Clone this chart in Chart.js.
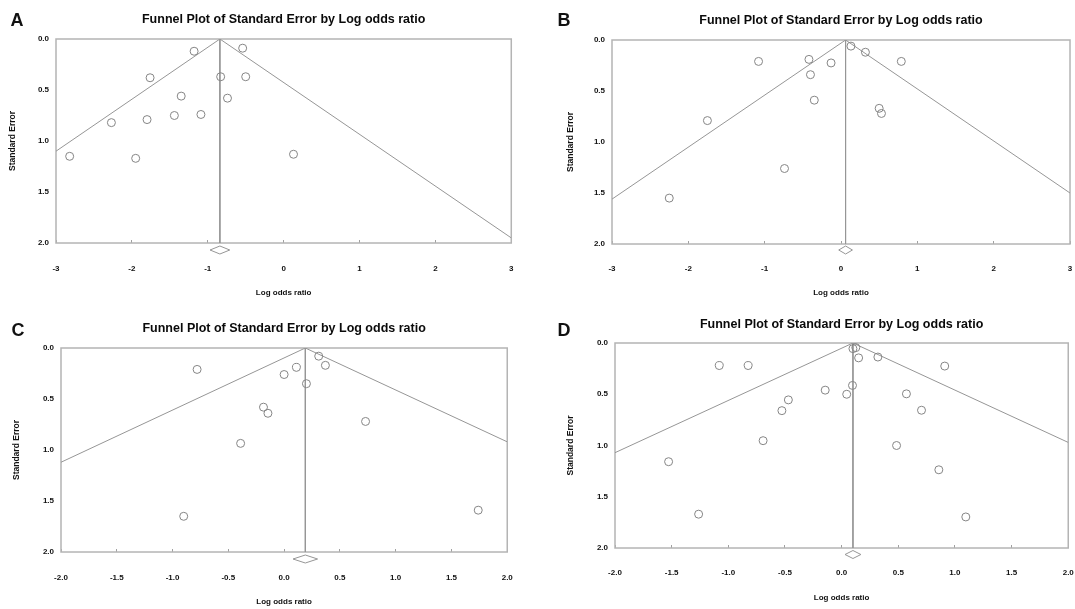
<!DOCTYPE html>
<html>
<head>
<meta charset="utf-8">
<script src="https://cdn.jsdelivr.net/npm/chart.js@4/dist/chart.umd.min.js"></script>
<style>
  html, body { margin: 0; padding: 0; background: #fff; overflow: hidden; }
  #page { position: relative; width: 1075px; height: 609px; overflow: hidden; }
  canvas { position: absolute; }
  .tag { position: absolute; font: bold 18px "Liberation Sans", Arial, sans-serif; color: #111; transform: translate(-50%, -50%); line-height: 1; }
</style>
</head>
<body>
<div id="page">
  <canvas id="chartA" width="537" height="305" style="left:0;top:0"></canvas>
  <canvas id="chartB" width="560" height="305" style="left:537px;top:0"></canvas>
  <canvas id="chartC" width="537" height="304" style="left:0;top:305px"></canvas>
  <canvas id="chartD" width="560" height="304" style="left:537px;top:305px"></canvas>
  <div class="tag" style="left:17px;top:20px">A</div>
  <div class="tag" style="left:564px;top:20px">B</div>
  <div class="tag" style="left:18px;top:330px">C</div>
  <div class="tag" style="left:564px;top:330px">D</div>
</div>
<script>
// shared text and ticks
const chartTitle = 'Funnel Plot of Standard Error by Log odds ratio';
const xTitle = 'Log odds ratio';
const yTitle = 'Standard Error';
const yTicks = [0.0, 0.5, 1.0, 1.5, 2.0];
const xTicksWide = [-3, -2, -1, 0, 1, 2, 3];
const xTicksNarrow = [-2.0, -1.5, -1.0, -0.5, 0.0, 0.5, 1.0, 1.5, 2.0];

// Panel A: study log odds ratios and standard errors
const logOrA = [-1.18, -0.54, -1.76, -0.83, -0.50, -1.35, -0.74, -2.27, -1.80, -1.44, -1.09, -2.82, -1.95, 0.13];
const seA = [0.12, 0.09, 0.38, 0.37, 0.37, 0.56, 0.58, 0.82, 0.79, 0.75, 0.74, 1.15, 1.17, 1.13];
const pooledA = [-0.84, -0.97, -0.71]; // estimate, lower, upper
const funnelA = [[-3, 1.10], [-0.84, 0], [3, 1.95]];

// Panel B
const logOrB = [-1.08, -0.42, -0.13, -0.40, 0.13, 0.32, 0.79, -0.35, 0.50, 0.53, -1.75, -0.74, -2.25];
const seB = [0.21, 0.19, 0.225, 0.34, 0.06, 0.12, 0.21, 0.59, 0.67, 0.72, 0.79, 1.26, 1.55];
const pooledB = [0.06, -0.03, 0.15];
const funnelB = [[-3, 1.56], [0.06, 0], [3, 1.50]];

// Panel C
const logOrC = [-0.78, 0.0, 0.11, 0.31, 0.37, 0.20, -0.185, -0.145, 0.73, -0.39, -0.90, 1.74];
const seC = [0.21, 0.26, 0.19, 0.08, 0.17, 0.35, 0.58, 0.64, 0.72, 0.935, 1.65, 1.59];
const pooledC = [0.19, 0.08, 0.30];
const funnelC = [[-2, 1.12], [0.19, 0], [2, 0.92]];

// Panel D
const logOrD = [-1.08, -0.825, 0.10, 0.125, 0.15, 0.32, 0.91, -0.145, 0.096, 0.045, 0.572, -0.47, -0.527, 0.705, -0.693, 0.485, -1.527, 0.858, -1.262, 1.096];
const seD = [0.22, 0.22, 0.055, 0.045, 0.145, 0.137, 0.225, 0.46, 0.414, 0.50, 0.496, 0.555, 0.66, 0.656, 0.953, 1.0, 1.158, 1.237, 1.67, 1.697];
const pooledD = [0.10, 0.03, 0.17];
const funnelD = [[-2, 1.07], [0.10, 0], [2, 0.97]];

const FONT = '"Liberation Sans", Arial, sans-serif';
const LINE = '#969696';

// box round the plot area
const framePlugin = {
    id: 'frame',
    beforeDatasetsDraw(chart) {
        const a = chart.chartArea;
        const ctx = chart.ctx;
        ctx.save();
        ctx.strokeStyle = '#b4b4b4';
        ctx.lineWidth = 1.5;
        ctx.strokeRect(a.left, a.top, a.right - a.left, a.bottom - a.top);
        ctx.restore();
    }
};

function buildPanel(id, s) {
    const canvas = document.getElementById(id);
    const W = canvas.width, H = canvas.height;
    const yMax = yTicks[yTicks.length - 1];

    // pooled estimate diamond under the x axis
    const diamond = {
        id: 'diamond',
        afterDatasetsDraw(chart) {
            const x = chart.scales.x;
            const ctx = chart.ctx;
            const cy = chart.chartArea.bottom + s.gap;
            ctx.save();
            ctx.strokeStyle = LINE;
            ctx.lineWidth = 1;
            ctx.beginPath();
            ctx.moveTo(x.getPixelForValue(s.pooled[1]), cy);
            ctx.lineTo(x.getPixelForValue(s.pooled[0]), cy - 4);
            ctx.lineTo(x.getPixelForValue(s.pooled[2]), cy);
            ctx.lineTo(x.getPixelForValue(s.pooled[0]), cy + 4);
            ctx.closePath();
            ctx.stroke();
            ctx.restore();
        }
    };

    new Chart(canvas, {
        type: 'scatter',
        data: {
            datasets: [
                {
                    data: s.logOr.map((v, i) => ({ x: v, y: s.se[i] })),
                    pointStyle: 'circle',
                    pointRadius: 4,
                    borderColor: '#858585',
                    borderWidth: 1,
                    backgroundColor: 'rgba(255,255,255,0)'
                },
                {
                    data: s.funnel.map(p => ({ x: p[0], y: p[1] })),
                    showLine: true,
                    pointRadius: 0,
                    borderColor: LINE,
                    borderWidth: 1
                },
                {
                    data: [{ x: s.pooled[0], y: 0 }, { x: s.pooled[0], y: yMax }],
                    showLine: true,
                    pointRadius: 0,
                    borderColor: LINE,
                    borderWidth: 1
                }
            ]
        },
        options: {
            responsive: false,
            animation: false,
            devicePixelRatio: 1,
            layout: { padding: { left: 0, top: 0, bottom: 0, right: W - s.area.right } },
            plugins: {
                legend: { display: false },
                tooltip: { enabled: false },
                title: {
                    display: true,
                    text: chartTitle,
                    fullSize: false,
                    color: '#0a0a0a',
                    font: { family: FONT, size: 12.5, weight: 'bold', lineHeight: 1.2 },
                    padding: { top: s.titleY - 7.5, bottom: s.area.top - s.titleY - 7.5 }
                }
            },
            scales: {
                x: {
                    type: 'linear',
                    min: s.xTicks[0],
                    max: s.xTicks[s.xTicks.length - 1],
                    afterBuildTicks: sc => { sc.ticks = s.xTicks.map(v => ({ value: v })); },
                    afterFit: sc => { sc.height = H - s.area.bottom; },
                    grid: { drawOnChartArea: false, drawTicks: true, tickLength: -3, color: '#a0a0a0' },
                    border: { display: false },
                    ticks: {
                        autoSkip: false,
                        maxRotation: 0,
                        padding: s.xTickY - s.area.bottom + 3 - 4.8,
                        color: '#111',
                        font: { family: FONT, size: 8, weight: 'bold' },
                        callback: v => v.toFixed(s.xDec)
                    },
                    title: {
                        display: true,
                        text: xTitle,
                        color: '#111',
                        font: { family: FONT, size: 8, weight: 'bold', lineHeight: 1.2 },
                        padding: { top: 0, bottom: H - s.xTitleY - 4.8 }
                    }
                },
                y: {
                    type: 'linear',
                    reverse: true,
                    min: yTicks[0],
                    max: yMax,
                    afterBuildTicks: sc => { sc.ticks = yTicks.map(v => ({ value: v })); },
                    afterFit: sc => { sc.width = s.area.left; },
                    grid: { display: false, drawTicks: false },
                    border: { display: false },
                    ticks: {
                        padding: 7,
                        color: '#111',
                        font: { family: FONT, size: 8, weight: 'bold' },
                        callback: v => v.toFixed(1)
                    },
                    title: {
                        display: true,
                        text: yTitle,
                        color: '#111',
                        font: { family: FONT, size: 8.5, weight: 'bold', lineHeight: 1.2 },
                        padding: { top: s.yTitleX - 5.1, bottom: 0 }
                    }
                }
            }
        },
        plugins: [framePlugin, diamond]
    });
}

buildPanel('chartA', {
    logOr: logOrA, se: seA, pooled: pooledA, funnel: funnelA, xTicks: xTicksWide, xDec: 0,
    area: { left: 56, right: 512, top: 39, bottom: 243 },
    titleY: 19.5, yTitleX: 12.8, xTickY: 268.3, xTitleY: 292.7, gap: 7
});
buildPanel('chartB', {
    logOr: logOrB, se: seB, pooled: pooledB, funnel: funnelB, xTicks: xTicksWide, xDec: 0,
    area: { left: 75, right: 533, top: 40, bottom: 244 },
    titleY: 20.7, yTitleX: 34, xTickY: 269, xTitleY: 293, gap: 6
});
buildPanel('chartC', {
    logOr: logOrC, se: seC, pooled: pooledC, funnel: funnelC, xTicks: xTicksNarrow, xDec: 1,
    area: { left: 61, right: 519, top: 43, bottom: 247 },
    titleY: 24, yTitleX: 17, xTickY: 273, xTitleY: 297, gap: 7
});
buildPanel('chartD', {
    logOr: logOrD, se: seD, pooled: pooledD, funnel: funnelD, xTicks: xTicksNarrow, xDec: 1,
    area: { left: 78, right: 534, top: 38, bottom: 243 },
    titleY: 19.3, yTitleX: 34, xTickY: 268, xTitleY: 293, gap: 6.5
});
</script>
</body>
</html>
